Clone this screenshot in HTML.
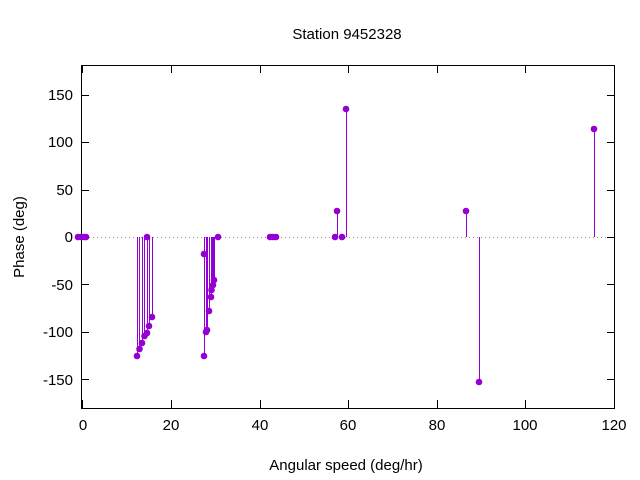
<!DOCTYPE html>
<html><head><meta charset="utf-8"><style>body{margin:0;background:#fff}svg{display:block}text{font-family:"Liberation Sans","DejaVu Sans",sans-serif;font-size:15px;fill:#000}</style></head><body>
<svg width="640" height="480" viewBox="0 0 640 480">
<text x="347" y="39" text-anchor="middle">Station 9452328</text>
<line x1="81" y1="237.5" x2="615" y2="237.5" stroke="#999" stroke-dasharray="1,3" shape-rendering="crispEdges"/>
<g stroke="#000" stroke-width="1" shape-rendering="crispEdges">
<rect x="81.5" y="65.5" width="533" height="343" fill="none"/>
<path d="M81 95.5h8M81 142.5h8M81 190.5h8M81 237.5h8M81 284.5h8M81 332.5h8M81 379.5h8M615 95.5h-8M615 142.5h-8M615 190.5h-8M615 237.5h-8M615 284.5h-8M615 332.5h-8M615 379.5h-8"/>
<path d="M82.5 408v-8M171.5 408v-8M260.5 408v-8M348.5 408v-8M437.5 408v-8M525.5 408v-8M614.5 408v-8M82.5 65v8M171.5 65v8M260.5 65v8M348.5 65v8M437.5 65v8M525.5 65v8M614.5 65v8"/>
</g>
<g text-anchor="end">
<text x="73" y="100">150</text><text x="73" y="147">100</text><text x="73" y="195">50</text><text x="73" y="242">0</text><text x="73" y="290">-50</text><text x="73" y="337">-100</text><text x="73" y="385">-150</text></g>
<g text-anchor="middle">
<text x="83" y="430">0</text><text x="171" y="430">20</text><text x="260" y="430">40</text><text x="348" y="430">60</text><text x="437" y="430">80</text><text x="525" y="430">100</text><text x="614" y="430">120</text>
<text x="346" y="470">Angular speed (deg/hr)</text>
<text transform="translate(24,237) rotate(-90)">Phase (deg)</text></g>
<g stroke="#9400d3" stroke-width="1" shape-rendering="crispEdges">
<path d="M137.5 237V356M139.5 237V349M142.5 237V343M144.5 237V336M147.5 237V333M149.5 237V326M152.5 237V317M204.5 237V356M204.5 237V254M206.5 237V332M207.5 237V330M209.5 237V311M211.5 237V297M212.5 237V290M213.5 237V285M214.5 237V280M337.5 237V211M346.5 237V109M466.5 237V211M479.5 237V382M594.5 237V129"/>
</g>
<g fill="#9400d3">
<circle cx="78" cy="237" r="3.3"/><circle cx="81" cy="237" r="3.3"/><circle cx="84" cy="237" r="3.3"/><circle cx="86" cy="237" r="3.3"/>
<circle cx="137" cy="356" r="3.3"/><circle cx="139.5" cy="349" r="3.3"/><circle cx="142" cy="343" r="3.3"/><circle cx="144.5" cy="336" r="3.3"/><circle cx="147" cy="333" r="3.3"/><circle cx="149" cy="326" r="3.3"/><circle cx="152" cy="317" r="3.3"/><circle cx="147" cy="237" r="3.3"/>
<circle cx="204" cy="356" r="3.3"/><circle cx="204" cy="254" r="3.3"/><circle cx="206" cy="332" r="3.3"/><circle cx="207" cy="330" r="3.3"/><circle cx="209" cy="311" r="3.3"/><circle cx="211" cy="297" r="3.3"/><circle cx="211.5" cy="290" r="3.3"/><circle cx="213" cy="285" r="3.3"/><circle cx="214" cy="280" r="3.3"/><circle cx="218" cy="237" r="3.3"/>
<circle cx="270" cy="237" r="3.3"/><circle cx="273" cy="237" r="3.3"/><circle cx="276" cy="237" r="3.3"/>
<circle cx="335" cy="237" r="3.3"/><circle cx="337" cy="211" r="3.3"/><circle cx="342" cy="237" r="3.3"/><circle cx="346" cy="109" r="3.3"/>
<circle cx="466" cy="211" r="3.3"/><circle cx="479" cy="382" r="3.3"/><circle cx="594" cy="129" r="3.3"/>
</g>
</svg></body></html>
